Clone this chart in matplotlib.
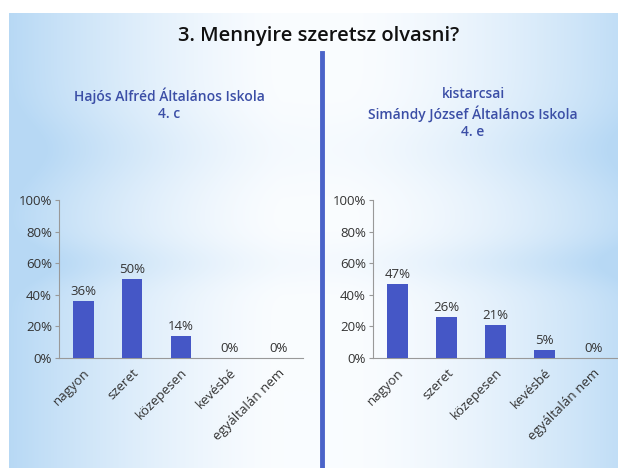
import numpy as np
import matplotlib
matplotlib.use("Agg")
import matplotlib.pyplot as plt
from matplotlib.ticker import FixedLocator

# ---- data ----
categories = ["nagyon", "szeret", "közepesen", "kevésbé", "egyáltalán nem"]
left_values = [36, 50, 14, 0, 0]
right_values = [47, 26, 21, 5, 0]
yticks = [0, 20, 40, 60, 80, 100]
ytick_labels = ["0%", "20%", "40%", "60%", "80%", "100%"]
title = "3. Mennyire szeretsz olvasni?"
left_title = "Hajós Alfréd Általános Iskola\n4. c"
right_title = "kistarcsai\nSimándy József Általános Iskola\n4. e"

W, H = 618, 468
fig = plt.figure(figsize=(W / 100, H / 100), dpi=100)
fig.patch.set_facecolor("white")

# ---- slide background gradient ----
bg = fig.add_axes([9 / W, 0, (W - 9) / W, (H - 13) / H])
bg.set_axis_off()
nx, ny = 300, 230
xs = np.linspace(0, 1, nx)
ys = np.linspace(0, 1, ny)
X, Y = np.meshgrid(xs, ys)
hl = np.clip(1 - X / 0.45, 0, 1) ** 1.4
hr = np.clip((X - 0.55) / 0.45, 0, 1) ** 1.6
h = np.maximum(hl, hr * 0.85)
band = 0.25 * np.exp(-((Y - 0.55) / 0.05) ** 2) + 0.2 * np.exp(-((Y - 0.3) / 0.08) ** 2)
t = np.clip(h + band * (0.3 + 0.7 * np.abs(X - 0.5) * 2), 0, 1)
white = np.array([0.98, 0.99, 1.0])
blue = np.array([0.72, 0.85, 0.96])
img = white[None, None, :] * (1 - t[..., None]) + blue[None, None, :] * t[..., None]
bg.imshow(img, aspect="auto", extent=[0, 1, 0, 1], origin="upper", interpolation="bilinear")
bg.set_xlim(0, 1)
bg.set_ylim(0, 1)

font = "Open Sans"
bar_color = "#4557c6"
title_blue = "#3b4ea6"
text_col = "#333333"
fs = 9.5

# title
fig.text(319 / W, 1 - 36 / H, title, ha="center", va="center",
         fontsize=14.5, color="#111111", family=font, fontweight="semibold")
# subtitles
fig.text(169 / W, 1 - 104 / H, left_title, ha="center", va="center",
         fontsize=10, color=title_blue, family=font, fontweight="semibold", linespacing=1.3)
fig.text(473 / W, 1 - 113 / H, right_title, ha="center", va="center",
         fontsize=10, color=title_blue, family=font, fontweight="semibold", linespacing=1.3)

# divider line
fig.add_artist(plt.Line2D([321.5 / W, 321.5 / W], [0, 1 - 53 / H],
                          transform=fig.transFigure, color="#4a63c9", lw=3.5))


def draw(ax, values):
    x = np.arange(len(categories))
    ax.bar(x, values, width=0.42, color=bar_color, zorder=3)
    ax.set_xlim(-0.5, len(categories) - 0.5)
    ax.set_ylim(0, 100)
    ax.set_facecolor("none")
    ax.yaxis.set_major_locator(FixedLocator(yticks))
    ax.set_yticklabels(ytick_labels, fontsize=fs, color=text_col, family=font)
    ax.set_xticks(x)
    ax.set_xticklabels(categories, rotation=45, ha="right", rotation_mode="anchor",
                       fontsize=fs, color=text_col, family=font)
    ax.tick_params(axis="x", length=0, pad=6)
    ax.tick_params(axis="y", length=3, color="#999999", pad=2)
    for s in ["top", "right"]:
        ax.spines[s].set_visible(False)
    for s in ["left", "bottom"]:
        ax.spines[s].set_color("#999999")
        ax.spines[s].set_linewidth(0.8)
    for xi, v in zip(x, values):
        ax.text(xi, v + 2, f"{v}%", ha="center", va="bottom",
                fontsize=fs, color=text_col, family=font)


axL = fig.add_axes([59 / W, 110 / H, 244 / W, 158 / H])
draw(axL, left_values)
axR = fig.add_axes([373 / W, 110 / H, 245 / W, 158 / H])
draw(axR, right_values)

fig.savefig("out.png", dpi=100)
